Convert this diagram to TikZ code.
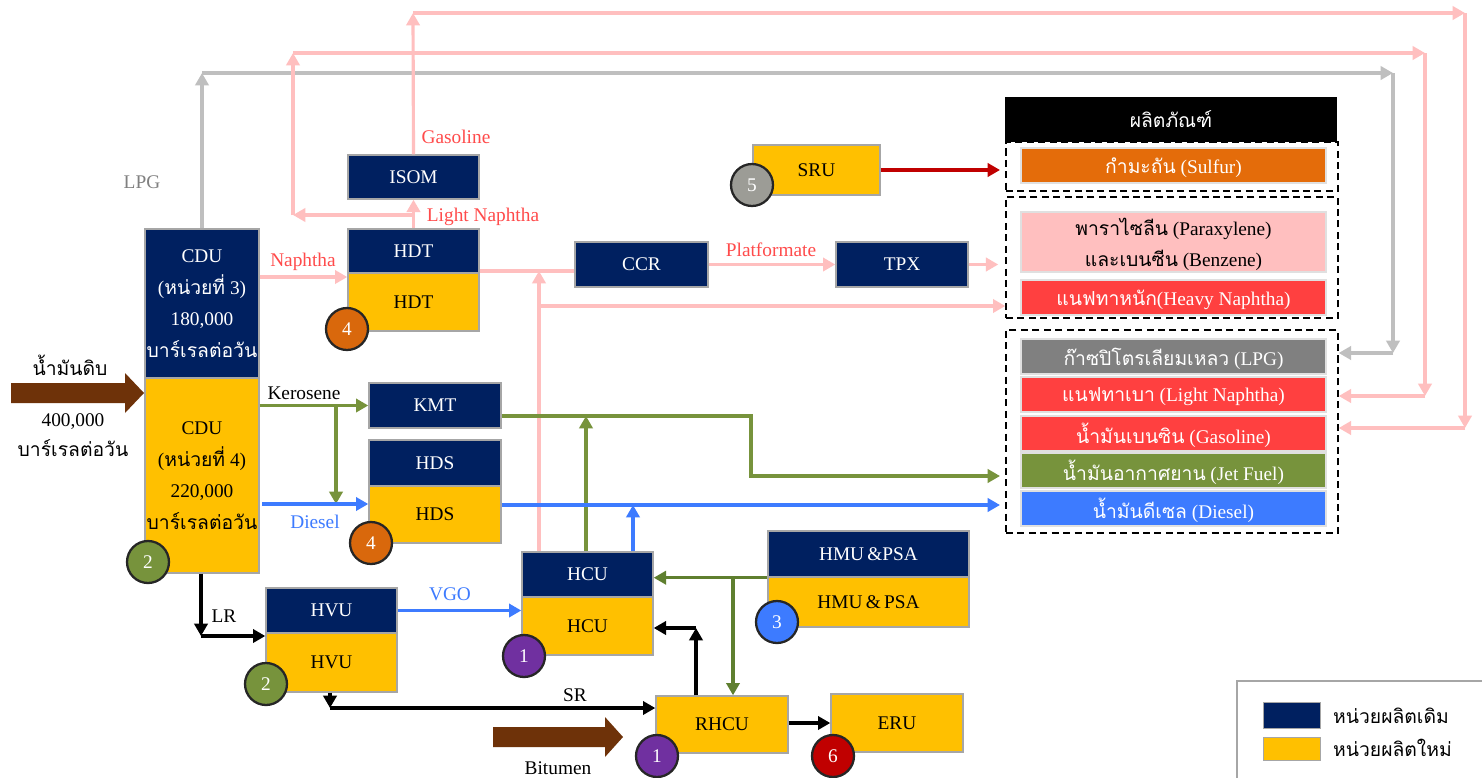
\documentclass[tikz,border=0pt]{standalone}
\usepackage{fontspec}
\setmainfont{Liberation Serif}
\newfontfamily\thfont[Script=Thai]{Loma}
\newcommand\tht[1]{{\thfont #1}}
\usetikzlibrary{arrows.meta}

\definecolor{navy}{HTML}{002060}
\definecolor{gold}{HTML}{FFC000}
\definecolor{edgegray}{HTML}{A6A6A6}
\definecolor{pinkline}{HTML}{FFBFBF}
\definecolor{grayline}{HTML}{BFBFBF}
\definecolor{labred}{HTML}{FF4B4B}
\definecolor{oilblue}{HTML}{3D7BFF}
\definecolor{olive}{HTML}{77933C}
\definecolor{darkolive}{HTML}{5F7F2F}
\definecolor{crude}{HTML}{6E3209}
\definecolor{sulfur}{HTML}{E46C0A}
\definecolor{redbar}{HTML}{FF4040}
\definecolor{lpgbar}{HTML}{808080}
\definecolor{badgeorange}{HTML}{D9680C}
\definecolor{badgegray}{HTML}{9C9C96}
\definecolor{badgepurple}{HTML}{7030A0}
\definecolor{darkred}{HTML}{C00000}

\tikzset{
  dims/.style 2 args={minimum width=#1*0.02cm,minimum height=#2*0.02cm},
  plantbox/.style={draw=edgegray,line width=0.8pt,inner sep=0pt,align=center,text depth=0pt,font=\fontsize{11}{18}\selectfont},
  oldunit/.style={plantbox,fill=navy,text=white},
  newunit/.style={plantbox,fill=gold,text=black},
  prodbar/.style={draw=black!12,line width=0.6pt,inner sep=0pt,text=white,align=center,text depth=0pt,dims={305}{35},font=\fontsize{11}{17.5}\selectfont},
  prodgroup/.style={draw,dash pattern=on 4pt off 2.5pt,line width=0.8pt,inner sep=0pt},
  badge/.style={circle,draw=black!85,line width=1.3pt,minimum size=0.84cm,inner sep=0pt,text=white,font=\fontsize{11}{13}\selectfont},
  flow/.style={line width=1.8pt,-{Triangle[length=7pt,width=7.5pt]}},
  link/.style={line width=1.8pt},
  lbl/.style={inner sep=1pt,font=\fontsize{11}{17}\selectfont,align=center},
}

\begin{document}
\begin{tikzpicture}[x={0.02cm},y={-0.02cm}]
\useasboundingbox[fill=white](0,0)rectangle(1482,778);
% units
\node[oldunit,dims={114}{149}](cduA)at(202,303.5){CDU\\(\tht{หน่วยที่} 3)\\180,000\\\tht{บาร์เรลต่อวัน}};
\node[newunit,dims={114}{195}](cduB)at(202,475.5){CDU\\(\tht{หน่วยที่} 4)\\220,000\\\tht{บาร์เรลต่อวัน}};
\node[oldunit,dims={131}{44}](isom)at(413.5,177){ISOM};
\node[oldunit,dims={131}{44}](hdtA)at(413.5,251){HDT};
\node[newunit,dims={131}{58}](hdtB)at(413.5,302){HDT};
\node[oldunit,dims={132}{45}](kmt)at(435,405.5){KMT};
\node[oldunit,dims={132}{46}](hdsA)at(435,463){HDS};
\node[newunit,dims={132}{57}](hdsB)at(435,514.5){HDS};
\node[oldunit,dims={133}{45}](ccr)at(641.5,264.5){CCR};
\node[oldunit,dims={132}{45}](tpx)at(902,264.5){TPX};
\node[newunit,dims={127}{50}](sru)at(816.5,170){SRU};
\node[oldunit,dims={131}{45}](hcuA)at(587.5,574.5){HCU};
\node[newunit,dims={131}{58}](hcuB)at(587.5,626){HCU};
\node[oldunit,dims={201}{46}](hmuA)at(868.5,554){HMU\,\&PSA};
\node[newunit,dims={201}{50}](hmuB)at(868.5,602){HMU\,\&\,PSA};
\node[oldunit,dims={131}{45}](hvuA)at(331.5,610.5){HVU};
\node[newunit,dims={131}{59}](hvuB)at(331.5,662.5){HVU};
\node[newunit,dims={132}{57}](rhcu)at(722,724.5){RHCU};
\node[newunit,dims={132}{58}](eru)at(897,723){ERU};
% badges
\node[badge,fill=olive](bgA)at(148,562){2};
\node[badge,fill=badgeorange](bgB)at(347,329){4};
\node[badge,fill=badgeorange](bgC)at(371,543){4};
\node[badge,fill=badgegray](bgD)at(752,185){5};
\node[badge,fill=badgepurple](bgE)at(524,656){1};
\node[badge,fill=olive](bgF)at(266,684){2};
\node[badge,fill=oilblue](bgG)at(777,622){3};
\node[badge,fill=badgepurple](bgH)at(657,756){1};
\node[badge,fill=darkred](bgI)at(833,756){6};
% products
\node[fill=black,text=white,inner sep=0pt,text depth=0pt,dims={332}{45},font=\fontsize{11}{13}\selectfont](hdr)at(1171,119.5){\tht{ผลิตภัณฑ์}};
\node[prodgroup,dims={332}{49}](grpA)at(1172,166.5){};
\node[prodgroup,dims={332}{121}](grpB)at(1172,257.5){};
\node[prodgroup,dims={332}{203}](grpC)at(1172,431.5){};
\node[prodbar,fill=sulfur](sulfur)at(1173.5,165.5){\tht{กำมะถัน} (Sulfur)};
\node[prodbar,fill=pinkline,text=black,dims={305}{60}](pxbz)at(1173.5,242){\tht{พาราไซลีน} (Paraxylene)\\\tht{และเบนซีน} (Benzene)};
\node[prodbar,fill=redbar](hvnap)at(1173.5,297.5){\tht{แนฟทาหนัก}(Heavy Naphtha)};
\node[prodbar,fill=lpgbar](lpg)at(1173.5,356.5){\tht{ก๊าซปิโตรเลียมเหลว} (LPG)};
\node[prodbar,fill=redbar](ltnap)at(1173.5,394.5){\tht{แนฟทาเบา} (Light Naphtha)};
\node[prodbar,fill=redbar](gasol)at(1173.5,433.5){\tht{น้ำมันเบนซิน} (Gasoline)};
\node[prodbar,fill=olive](jet)at(1173.5,470.5){\tht{น้ำมันอากาศยาน} (Jet Fuel)};
\node[prodbar,fill=oilblue](diesel)at(1173.5,508.5){\tht{น้ำมันดีเซล} (Diesel)};
% feeds
\fill[crude](11,383)--(125,383)--(125,373)--(144,393)--(125,413)--(125,403)--(11,403)--cycle;
\fill[crude](493,727)--(605,727)--(605,717)--(623,737)--(605,757)--(605,747)--(493,747)--cycle;
\node[lbl](crudetxt)at(70,365){\tht{น้ำมันดิบ}};
\node[lbl](crudeqty)at(73,435){400,000\\\tht{บาร์เรลต่อวัน}};
\node[lbl](bittxt)at(558,768){Bitumen};
% coordinates of bends
\coordinate(lpgA)at(202,73);\coordinate(lpgB)at(1393,73);\coordinate(lpgC)at(1393,353);
\coordinate(lpgD)at(grpC.east|-lpgC);
\coordinate(gasA)at(413,13);\coordinate(gasB)at(1465,13);\coordinate(gasC)at(1465,428);
\coordinate(gasD)at(grpC.east|-gasC);
\coordinate(lnA)at(413,215);\coordinate(lnB)at(293,215);\coordinate(lnC)at(293,53);
\coordinate(lnD)at(1425,53);\coordinate(lnE)at(1425,396);\coordinate(lnF)at(grpC.east|-lnE);
\coordinate(hdtcr)at(539,271);\coordinate(hnA)at(539,306);
\coordinate(keroA)at(336,405);\coordinate(dsl)at(262,504);
\coordinate(jetA)at(751,416);\coordinate(jetB)at(751,476);\coordinate(jetC)at(586,416);
\coordinate(dsB)at(633,505);\coordinate(hmA)at(733,578);
\coordinate(lrA)at(201,636);\coordinate(srA)at(330,708);\coordinate(rhA)at(696,628);
% gray and pink streams
\foreach \a/\b in {cduA.north/lpgA,lpgA/lpgB,lpgB/lpgC,lpgC/lpgD}{\draw[flow,grayline](\a)--(\b);}
\foreach \a/\b in {isom.north/gasA,gasA/gasB,gasB/gasC,gasC/gasD}{\draw[flow,pinkline](\a)--(\b);}
\foreach \a/\b in {hdtA.north/isom.south,lnA/lnB,lnB/lnC,lnC/lnD,lnD/lnE,lnE/lnF}{\draw[flow,pinkline](\a)--(\b);}
\draw[flow,pinkline](cduA.east|-0,277)--(hdtB.west|-0,277);
\draw[link,pinkline](hdtA.east|-hdtcr)--(ccr.west|-hdtcr);
\draw[flow,pinkline](hcuA.north-|hnA)--(hdtcr);
\draw[flow,pinkline](hnA)--(grpB.west|-hnA);
\draw[flow,pinkline](ccr.east)--(tpx.west);
\draw[flow,pinkline,shorten >=4pt](tpx.east)--(grpB.west|-tpx.east);
\draw[flow,darkred,shorten >=3pt](sru.east)--(grpA.west|-sru.east);
% middle distillates
\draw[flow,olive](cduB.east|-kmt.west)--(kmt.west);
\draw[flow,olive](keroA)--(keroA|-dsl);
\draw[flow,oilblue](dsl)--(hdsB.west|-dsl);
\draw[flow,olive,shorten >=3pt](kmt.east|-jetA)--(jetA)--(jetB)--(grpC.west|-jetB);
\draw[flow,olive](hcuA.north-|jetC)--(jetC);
\draw[flow,oilblue,shorten >=3pt](hdsB.east|-dsB)--(grpC.west|-dsB);
\draw[flow,oilblue](hcuA.north-|dsB)--(dsB);
% residue and hydrogen
\draw[flow,darkolive](hmuA.south west)--(hcuA.east|-hmuA.south west);
\draw[flow,darkolive](hmA)--(rhcu.north-|hmA);
\draw[flow](cduB.south-|lrA)--(lrA);
\draw[flow](lrA)--(hvuA.west|-lrA);
\draw[flow,oilblue](hvuA.east)--(hcuB.west|-hvuA.east);
\draw[flow](hvuB.south-|srA)--(srA);
\draw[flow](srA)--(rhcu.west|-srA);
\draw[flow](rhcu.north-|rhA)--(rhA);
\draw[flow](rhA)--(hcuB.east|-rhA);
\draw[flow](rhcu.east|-0,723)--(eru.west|-0,723);
% stream labels
\node[lbl,text=lpgbar](lpgtxt)at(142,182){LPG};
\node[lbl,text=labred](gastxt)at(456,137){Gasoline};
\node[lbl,text=labred](lntxt)at(483,217){Light Naphtha};
\node[lbl,text=labred](naptxt)at(303,262){Naphtha};
\node[lbl,text=labred](pfmtxt)at(771,250){Platformate};
\node[lbl](kertxt)at(304,393){Kerosene};
\node[lbl,text=oilblue](dsltxt)at(315,522){Diesel};
\node[lbl](lrtxt)at(224,616){LR};
\node[lbl,text=oilblue](vgotxt)at(450,594){VGO};
\node[lbl](srtxt)at(575,695){SR};
% legend
\draw[edgegray,line width=0.8pt](1237,778)--(1237,681)--(1482,681);
\node[fill=navy,draw=edgegray,inner sep=0pt,dims={57}{26}](legold)at(1291.5,715){};
\node[fill=gold,draw=edgegray,inner sep=0pt,dims={57}{23}](legnew)at(1291.5,748.5){};
\node[lbl,anchor=west](legoldtxt)at(1331,716){\tht{หน่วยผลิตเดิม}};
\node[lbl,anchor=west](legnewtxt)at(1331,748){\tht{หน่วยผลิตใหม่}};
\end{tikzpicture}
\end{document}
